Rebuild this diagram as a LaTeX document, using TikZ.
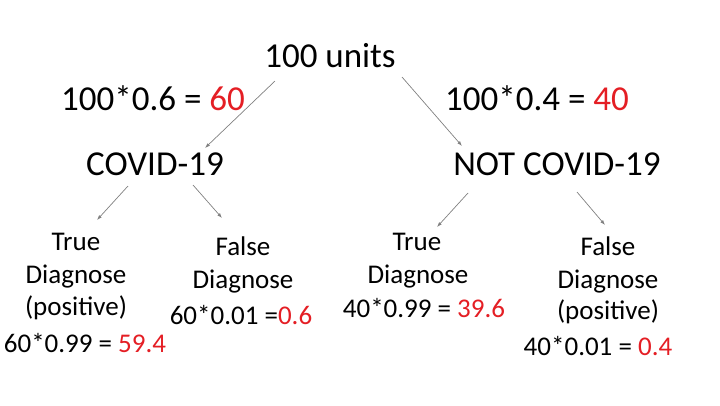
\documentclass[tikz,border=0pt]{standalone}
\usepackage{fontspec}
\setmainfont{Carlito}
\usetikzlibrary{arrows.meta}
\definecolor{valred}{RGB}{228,30,36}
\definecolor{arrowgray}{RGB}{128,128,128}
\begin{document}
\begin{tikzpicture}[x=1pt,y=-1pt,
	big/.style={font=\fontsize{35}{42}\selectfont, anchor=base, inner sep=0pt},
	small/.style={font=\fontsize{27}{33}\selectfont, anchor=base, inner sep=0pt},
	branch/.style={draw=arrowgray, line width=0.7pt, -{Latex[length=5pt,width=3.5pt]}}]
	\useasboundingbox (0,0) rectangle (720,405);
	% first split
	\node[big] (units) at (330,67) {100 units};
	\node[big] (covidcalc) at (153,110) {100*0.6 = \textcolor{valred}{60}};
	\node[big] (notcalc) at (537,110) {100*0.4 = \textcolor{valred}{40}};
	\node[big] (covid) at (155,175) {COVID-19};
	\node[big] (notcovid) at (557,175) {NOT COVID-19};
	% COVID-19 branch
	\node[small] (ctrue1) at (76,250) {True};
	\node[small] (ctrue2) at (76,283) {Diagnose};
	\node[small] (ctrue3) at (76,315) {(positive)};
	\node[small] (ctruecalc) at (85,352) {60*0.99 = \textcolor{valred}{59.4}};
	\node[small] (cfalse1) at (243,255) {False};
	\node[small] (cfalse2) at (243,288) {Diagnose};
	\node[small] (cfalsecalc) at (241,324) {60*0.01 =\textcolor{valred}{0.6}};
	% NOT COVID-19 branch
	\node[small] (ntrue1) at (417,250) {True};
	\node[small] (ntrue2) at (418,283) {Diagnose};
	\node[small] (ntruecalc) at (424,317) {40*0.99 = \textcolor{valred}{39.6}};
	\node[small] (nfalse1) at (608,255) {False};
	\node[small] (nfalse2) at (608,288) {Diagnose};
	\node[small] (nfalse3) at (608,319) {(positive)};
	\node[small] (nfalsecalc) at (598,355) {40*0.01 = \textcolor{valred}{0.4}};
	% arrow ends
	\coordinate (a1) at (275,81);  \coordinate (b1) at (205,148);
	\coordinate (a2) at (402,77);  \coordinate (b2) at (462,146);
	\coordinate (a3) at (128,186); \coordinate (b3) at (97,220);
	\coordinate (a4) at (193,185); \coordinate (b4) at (222,218);
	\coordinate (a5) at (468,193); \coordinate (b5) at (437,227);
	\coordinate (a6) at (577,192); \coordinate (b6) at (605,225);
	\draw[branch] (a1) -- (b1);
	\draw[branch] (a2) -- (b2);
	\draw[branch] (a3) -- (b3);
	\draw[branch] (a4) -- (b4);
	\draw[branch] (a5) -- (b5);
	\draw[branch] (a6) -- (b6);
\end{tikzpicture}
\end{document}
